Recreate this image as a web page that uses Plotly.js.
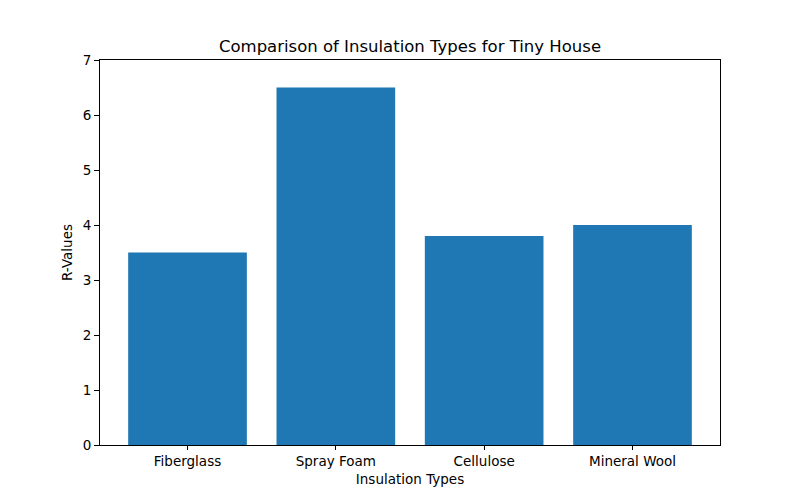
<!DOCTYPE html>
<html><head><meta charset="utf-8">
<script src="https://cdn.plot.ly/plotly-3.0.1.min.js"></script>
<style>body{margin:0;background:#fff}#chart{width:800px;height:500px}</style>
</head><body><div id="chart"></div>
<script>
const categories = ["Fiberglass", "Spray Foam", "Cellulose", "Mineral Wool"];
const rValues = [3.5, 6.5, 3.8, 4.0];
const yTicks = [0, 1, 2, 3, 4, 5, 6, 7];

const font = {family: "DejaVu Sans", size: 13.5, color: "#000"};
Plotly.newPlot("chart", [{
  type: "bar",
  x: categories.map((_, i) => i),
  y: rValues,
  width: 0.8,
  marker: {color: "#1f77b4"},
  hoverinfo: "x+y"
}], {
  width: 800, height: 500,
  margin: {l: 100, r: 80, t: 60, b: 55},
  paper_bgcolor: "#fff", plot_bgcolor: "#fff",
  font: font,
  showlegend: false,
  title: {text: "Comparison of Insulation Types for Tiny House", font: {family: "DejaVu Sans", size: 16.5, color: "#000"}, x: 0.5125, xanchor: "center", y: 0.907, yanchor: "middle"},
  xaxis: {
    range: [-0.59, 3.59], tickvals: categories.map((_, i) => i), ticktext: categories,
    showgrid: false, zeroline: false, showline: true, mirror: true, linecolor: "#000", linewidth: 1,
    ticks: "outside", ticklen: 4, tickcolor: "#000", tickfont: font,
    title: {text: "Insulation Types", font: font, standoff: 6}
  },
  yaxis: {
    range: [0, 7], tickvals: yTicks, ticktext: yTicks.map(String),
    showgrid: false, zeroline: false, showline: true, mirror: true, linecolor: "#000", linewidth: 1,
    ticks: "outside", ticklen: 5, tickcolor: "#000", tickfont: font,
    title: {text: "R-Values", font: font, standoff: 6}
  }
}, {displayModeBar: false});
</script></body></html>
